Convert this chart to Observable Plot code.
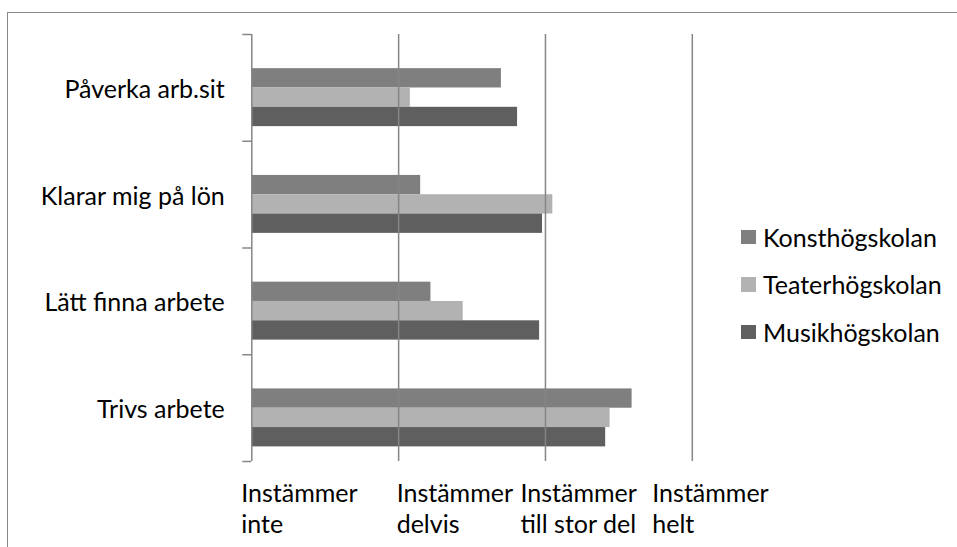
<!DOCTYPE html>
<html>
<head>
<meta charset="utf-8">
<script src="https://cdn.jsdelivr.net/npm/d3@7"></script>
<script src="https://cdn.jsdelivr.net/npm/@observablehq/plot@0.6"></script>
<style>
  html, body { margin: 0; padding: 0; background: #fff; overflow: hidden; width: 957px; height: 547px; }
  #wrap { position: relative; width: 957px; height: 547px; overflow: hidden; }
  #border { position: absolute; left: 6.5px; top: 11.5px; width: 1200px; height: 1200px; border: 1.5px solid #878787; box-sizing: border-box; }
  #chart { position: absolute; left: 0; top: 0; }
  #legend { position: absolute; left: 741px; top: 213px; font-family: Lato, sans-serif; font-size: 25px; color: #000; }
  .row { display: flex; align-items: center; height: 47.5px; white-space: nowrap; }
  .sw { width: 14.5px; height: 14.5px; margin-right: 7.5px; }
</style>
</head>
<body>
<div id="wrap">
  <div id="border"></div>
  <div id="chart"></div>
  <div id="legend"></div>
</div>
<script>
const categories = ["Påverka arb.sit", "Klarar mig på lön", "Lätt finna arbete", "Trivs arbete"];
const seriesNames = ["Konsthögskolan", "Teaterhögskolan", "Musikhögskolan"];
const konst  = [2.70, 2.15, 2.22, 3.59];
const teater = [2.08, 3.05, 2.44, 3.44];
const musik  = [2.81, 2.98, 2.96, 3.41];
const tickValues = [1, 2, 3, 4];
const tickLabels = ["Instämmer\ninte", "Instämmer\ndelvis", "Instämmer\ntill stor del", "Instämmer\nhelt"];
const colors = ["#7f7f7f", "#b2b2b2", "#5f5f5f"];

// styling constants
const labelDx = [-10.6, -2, -25, -40];
const groupStart = 0.32, barH = 0.181;
const gridColor = "#868686";

const seriesValues = [konst, teater, musik];
const rows = [];
categories.forEach((c, i) => seriesNames.forEach((s, j) => rows.push({cat: c, i, series: s, j, value: seriesValues[j][i]})));
const n = categories.length;

const chart = Plot.plot({
  width: 957, height: 547,
  marginLeft: 251.3, marginRight: 265.2, marginTop: 34, marginBottom: 86,
  style: {fontFamily: "Lato, sans-serif", fontSize: "25px", color: "#000", background: "transparent", overflow: "visible"},
  x: {domain: [1, 4], axis: null},
  y: {domain: [0, n], reverse: true, axis: null},
  color: {domain: seriesNames, range: colors},
  marks: [
    Plot.rectX(rows, {
      x1: 1, x2: "value",
      y1: d => d.i + groupStart + d.j * barH,
      y2: d => d.i + groupStart + (d.j + 1) * barH,
      fill: "series"
    }),
    Plot.ruleX(tickValues, {stroke: gridColor, strokeWidth: 1.5}),
    Plot.ruleY(d3.range(n + 1), {x1: 1, x2: 1, insetLeft: -9, stroke: gridColor, strokeWidth: 1.5}),
    Plot.text(categories, {x: 1, y: (d, i) => i + 0.5, text: d => d, textAnchor: "end", dx: -27, dy: 2, fontSize: 25, fill: "#000"}),
    ...tickLabels.map((t, i) => Plot.text([t], {
      x: tickValues[i], y: n, text: d => d, textAnchor: "start", lineAnchor: "top",
      dx: labelDx[i], dy: 18, lineHeight: 1.25, fontSize: 25, fill: "#000"
    }))
  ]
});
document.getElementById("chart").appendChild(chart);

const legend = document.getElementById("legend");
seriesNames.forEach((s, j) => {
  const row = document.createElement("div");
  row.className = "row";
  const sw = document.createElement("div");
  sw.className = "sw";
  sw.style.background = colors[j];
  const lab = document.createElement("span");
  lab.textContent = s;
  row.appendChild(sw); row.appendChild(lab);
  legend.appendChild(row);
});
</script>
</body>
</html>
